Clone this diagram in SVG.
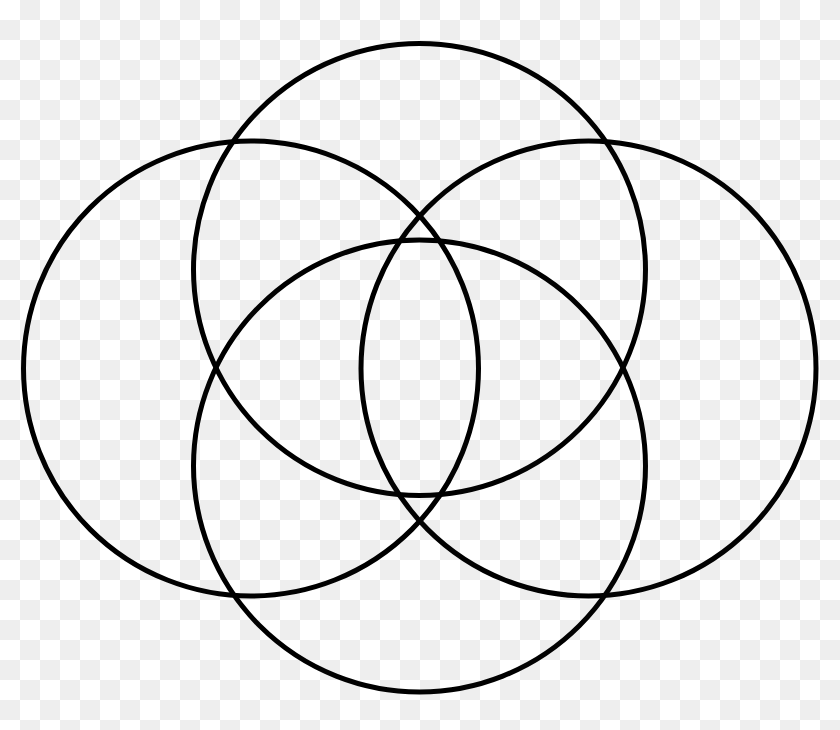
<svg xmlns="http://www.w3.org/2000/svg" width="840" height="730" viewBox="0 0 840 730">
<defs>
<pattern id="checker" x="0" y="0" width="40" height="40" patternUnits="userSpaceOnUse">
<rect width="40" height="40" fill="#ffffff"/>
<rect x="20" y="0" width="20" height="20" fill="#eeeeee"/>
<rect x="0" y="20" width="20" height="20" fill="#eeeeee"/>
</pattern>
</defs>
<style>.c{fill:none;stroke:#000;stroke-width:5}</style>
<rect width="840" height="730" fill="url(#checker)"/>
<g id="top"><circle class="c" cx="419.5" cy="269.5" r="226"/></g>
<g id="bottom"><circle class="c" cx="419.5" cy="466" r="226"/></g>
<g id="left"><circle class="c" cx="251" cy="368.5" r="227.5"/></g>
<g id="right"><circle class="c" cx="588.5" cy="368.5" r="227.5"/></g>
</svg>
